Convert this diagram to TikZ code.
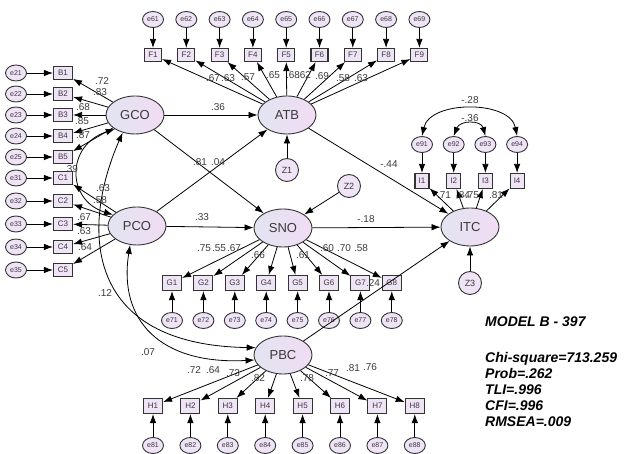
\documentclass[tikz,border=0pt]{standalone}
\usepackage{fontspec}
\setmainfont{Liberation Sans}
\usetikzlibrary{shapes.geometric, arrows.meta, positioning}
\definecolor{mlav}{HTML}{EFE3F6}
\definecolor{mblue}{HTML}{E2E4F2}
\definecolor{mpink}{HTML}{F1DCF3}
\definecolor{medge}{HTML}{333333}
\definecolor{mtext}{HTML}{3A3A3A}
\tikzstyle{latent} = [ellipse, draw=medge, line width=0.9pt, left color=mblue, right color=mpink, minimum width=58pt, minimum height=38pt, inner sep=0pt, text=mtext, font=\fontsize{13}{13}\selectfont]
\tikzstyle{item} = [rectangle, draw=medge, line width=1.1pt, fill=mlav, minimum width=18pt, minimum height=14pt, inner sep=0pt, text=mtext, font=\fontsize{8}{8}\selectfont]
\tikzstyle{err} = [ellipse, draw=medge, line width=0.9pt, fill=mlav, minimum width=21pt, minimum height=16pt, inner sep=0pt, text=mtext, font=\fontsize{7}{7}\selectfont]
\tikzstyle{dist} = [circle, draw=medge, line width=0.9pt, fill=mlav, minimum size=23pt, inner sep=0pt, text=mtext, font=\fontsize{9}{9}\selectfont]
\tikzstyle{reg} = [line width=0.8pt, -{Latex[length=9pt, width=6.5pt]}]
\tikzstyle{cov} = [line width=0.8pt, {Latex[length=9pt, width=6.5pt]}-{Latex[length=9pt, width=6.5pt]}]
\tikzstyle{coef} = [inner sep=0pt, text=mtext, font=\fontsize{10}{10}\selectfont]
\tikzstyle{fitbox} = [inner sep=0pt, anchor=west, align=left, text=black, font=\fontsize{14}{16}\selectfont\bfseries\itshape]
\begin{document}
\begin{tikzpicture}[x=1pt, y=-1pt]
\useasboundingbox (0,0) rectangle (625,454);
% latent variables
\node (GCO) [latent] at (135,115) {GCO};
\node (ATB) [latent] at (287,115) {ATB};
\node (PCO) [latent] at (137,226) {PCO};
\node (SNO) [latent] at (283,228) {SNO};
\node (ITC) [latent] at (470,227) {ITC};
\node (PBC) [latent] at (283,355) {PBC};
\node (Z1) [dist] at (287,170) {Z1};
\node (Z2) [dist] at (349,186) {Z2};
\node (Z3) [dist] at (470,283) {Z3};
% indicators
\foreach \i in {1,...,9} {
  \node (F\i) [item, minimum width=17pt, minimum height=13pt] at ({153+33.3*(\i-1)},55) {F\i};
  \node (e6\i) [err, above=20pt of F\i] {e6\i};
  \draw [reg] (e6\i) -- (F\i);
  \draw [reg] (ATB) -- (F\i);
}
\foreach \i/\y in {1/73, 2/94, 3/115, 4/136, 5/157} {
  \node (B\i) [item, minimum width=19pt, minimum height=13pt] at (63,\y) {B\i};
  \node (e2\i) [err, left=26pt of B\i] {e2\i};
  \draw [reg] (e2\i) -- (B\i);
  \draw [reg] (GCO) -- (B\i);
}
\foreach \i/\y in {1/178, 2/201, 3/224, 4/247, 5/270} {
  \node (C\i) [item, minimum width=19pt, minimum height=13pt] at (63,\y) {C\i};
  \node (e3\i) [err, left=26pt of C\i] {e3\i};
  \draw [reg] (e3\i) -- (C\i);
  \draw [reg] (PCO) -- (C\i);
}
\foreach \i in {1,...,8} {
  \node (G\i) [item, minimum width=19pt, minimum height=15pt] at ({172+31.4*(\i-1)},283) {G\i};
  \node (e7\i) [err, below=21pt of G\i] {e7\i};
  \draw [reg] (e7\i) -- (G\i);
  \draw [reg] (SNO) -- (G\i);
}
\foreach \i in {1,...,8} {
  \node (H\i) [item, minimum width=19pt, minimum height=15pt] at ({153+37.4*(\i-1)},406) {H\i};
  \node (e8\i) [err, below=23pt of H\i] {e8\i};
  \draw [reg] (e8\i) -- (H\i);
  \draw [reg] (PBC) -- (H\i);
}
\foreach \i in {1,...,4} {
  \node (I\i) [item, minimum width=14pt, minimum height=15pt] at ({422+31.7*(\i-1)},181) {I\i};
  \node (e9\i) [err, above=20pt of I\i] {e9\i};
  \draw [reg] (e9\i) -- (I\i);
  \draw [reg] (ITC) -- (I\i);
}
% structural paths
\draw [reg] (GCO) -- (ATB);
\draw [reg] (GCO) -- (SNO);
\draw [reg] (PCO) -- (ATB);
\draw [reg] (PCO) -- (SNO);
\draw [reg] (ATB) -- (ITC);
\draw [reg] (SNO) -- (ITC);
\draw [reg] (PBC) -- (ITC);
\draw [reg] (Z1) -- (ATB);
\draw [reg] (Z2) -- (SNO);
\draw [reg] (Z3) -- (ITC);
% covariances
\draw [cov] (GCO.215) .. controls (66,145) and (66,200) .. (PCO.155);
\draw [cov] (GCO.235) .. controls (80,230) and (85,345) .. (PBC.165);
\draw [cov] (PCO.250) .. controls (118,320) and (160,365) .. (PBC.190);
\draw [cov] (e91.north) .. controls (430,100) and (510,100) .. (e94.north);
\draw [cov] (e92.north) .. controls (460,120) and (481,120) .. (e93.north);
% estimates
\foreach \t/\x/\y [count=\k] in {.67/213/78, .63/228/78, .57/248/77, .65/273/75, .68/293/75, .62/304/75, .69/322/76, .58/343/78, .63/361/78} {
  \node (cF\k) [coef] at (\x,\y) {\t};
}
\foreach \t/\x/\y [count=\k] in {.72/102/81, .83/100/92, .68/83/107, .85/82/121, .87/83/135} {
  \node (cB\k) [coef] at (\x,\y) {\t};
}
\foreach \t/\x/\y [count=\k] in {.63/103/188, .58/100/200, .67/84/217, .63/84/231, .64/85/247} {
  \node (cC\k) [coef] at (\x,\y) {\t};
}
\foreach \t/\x/\y [count=\k] in {.75/204/248, .55/219/248, .67/234/248, .66/258/255, .61/303/255, .60/327/248, .70/344/248, .58/361/248} {
  \node (cG\k) [coef] at (\x,\y) {\t};
}
\foreach \t/\x/\y [count=\k] in {.72/194/370, .64/213/370, .73/233/373, .82/258/378, .78/307/378, .77/332/373, .81/353/368, .76/370/367} {
  \node (cH\k) [coef] at (\x,\y) {\t};
}
\foreach \t/\x/\y [count=\k] in {.71/444/195, .84/463/195, .75/472/195, .81/496/195} {
  \node (cI\k) [coef] at (\x,\y) {\t};
}
\node (cGA) [coef] at (218,107) {.36};
\node (cGS) [coef] at (200,162) {.81};
\node (cPA) [coef] at (218,162) {.04};
\node (cPS) [coef] at (202,217) {.33};
\node (cAI) [coef] at (389,164) {-.44};
\node (cSI) [coef] at (366,219) {-.18};
\node (cBI) [coef] at (373,283) {.24};
\node (cGP) [coef] at (71,169) {.39};
\node (cGB) [coef] at (105,293) {.12};
\node (cPB) [coef] at (148,352) {.07};
\node (c14) [coef] at (470,100) {-.28};
\node (c23) [coef] at (470,118) {-.36};
% fit indices
\node (model) [fitbox] at (485,322) {MODEL B - 397};
\node (fit) [fitbox] at (485,389) {Chi-square=713.259\\Prob=.262\\TLI=.996\\CFI=.996\\RMSEA=.009};
\end{tikzpicture}
\end{document}
